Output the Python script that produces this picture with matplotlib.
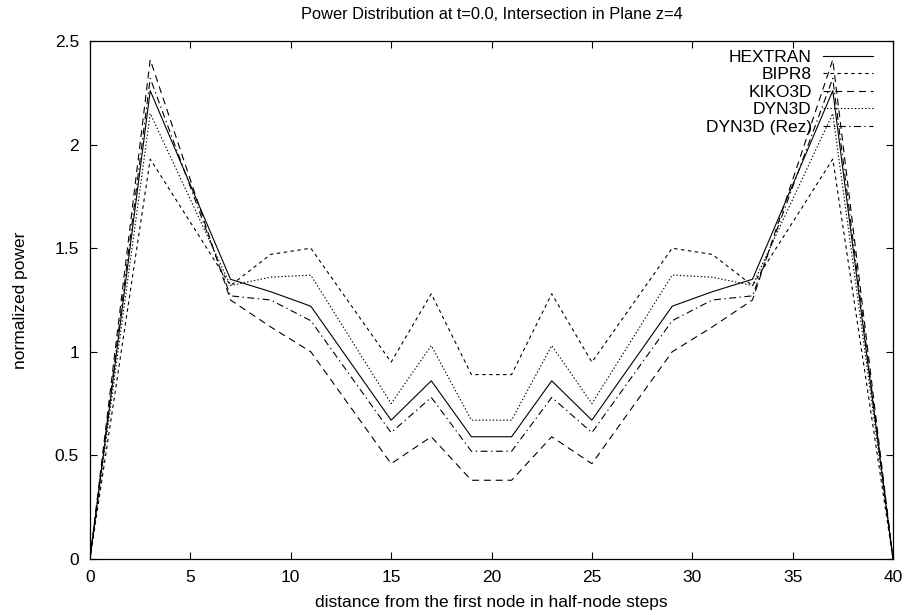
import matplotlib
matplotlib.use('Agg')
from matplotlib import pyplot as plt

# half-node positions along the intersection
x = [0, 3, 7, 9, 11, 15, 17, 19, 21, 23, 25, 29, 31, 33, 37, 40]

hextran = [0, 2.26, 1.35, 1.29, 1.22, 0.67, 0.86, 0.59, 0.59, 0.86, 0.67, 1.22, 1.29, 1.35, 2.26, 0]
bipr8 = [0, 1.93, 1.32, 1.47, 1.50, 0.95, 1.28, 0.89, 0.89, 1.28, 0.95, 1.50, 1.47, 1.32, 1.93, 0]
kiko3d = [0, 2.41, 1.25, 1.12, 1.00, 0.46, 0.59, 0.38, 0.38, 0.59, 0.46, 1.00, 1.12, 1.25, 2.41, 0]
dyn3d = [0, 2.15, 1.32, 1.36, 1.37, 0.75, 1.03, 0.67, 0.67, 1.03, 0.75, 1.37, 1.36, 1.32, 2.15, 0]
dyn3d_rez = [0, 2.32, 1.27, 1.25, 1.15, 0.61, 0.78, 0.52, 0.52, 0.78, 0.61, 1.15, 1.25, 1.27, 2.32, 0]

labels = ['HEXTRAN', 'BIPR8', 'KIKO3D', 'DYN3D', 'DYN3D (Rez)']
series = [hextran, bipr8, kiko3d, dyn3d, dyn3d_rez]
styles = ['-', (0, (2.5, 2.5)), (0, (5, 3.5)), (0, (1, 1.5)), (0, (5, 2.5, 1, 2.5))]

xticks = [0, 5, 10, 15, 20, 25, 30, 35, 40]
yticks = [0, 0.5, 1, 1.5, 2, 2.5]
ytick_labels = ['0', '0.5', '1', '1.5', '2', '2.5']

plt.rcParams['font.family'] = ['Liberation Sans', 'DejaVu Sans']
plt.rcParams['font.size'] = 12.5
plt.rcParams['lines.scale_dashes'] = False

fig = plt.figure(figsize=(9.08, 6.15), dpi=100)
ax = fig.add_axes([90 / 908, 1 - 559 / 615, 803 / 908, 518 / 615])

for y, lab, ls in zip(series, labels, styles):
    ax.plot(x, y, color='black', linestyle=ls, linewidth=0.8, label=lab)

ax.set_xlim(0, 40)
ax.set_ylim(0, 2.5)
ax.set_xticks(xticks)
ax.set_yticks(yticks)
ax.set_yticklabels(ytick_labels)
ax.tick_params(direction='in', top=True, right=True, length=5, width=0.8, labelsize=12.5)
ax.tick_params(axis='x', pad=8)
ax.tick_params(axis='y', pad=8)
for s in ax.spines.values():
    s.set_linewidth(0.9)

ax.set_title('Power Distribution at t=0.0, Intersection in Plane z=4', fontsize=11.8, pad=16)
ax.set_xlabel('distance from the first node in half-node steps', labelpad=7)
ax.set_ylabel('normalized power', labelpad=19)

ax.legend(loc='upper right', bbox_to_anchor=(0.975, 0.983), frameon=False, markerfirst=False,
          handlelength=2.9, handletextpad=0.63, labelspacing=0.13, borderpad=0, borderaxespad=0,
          fontsize=12.5)

fig.savefig('out.png', dpi=100)
